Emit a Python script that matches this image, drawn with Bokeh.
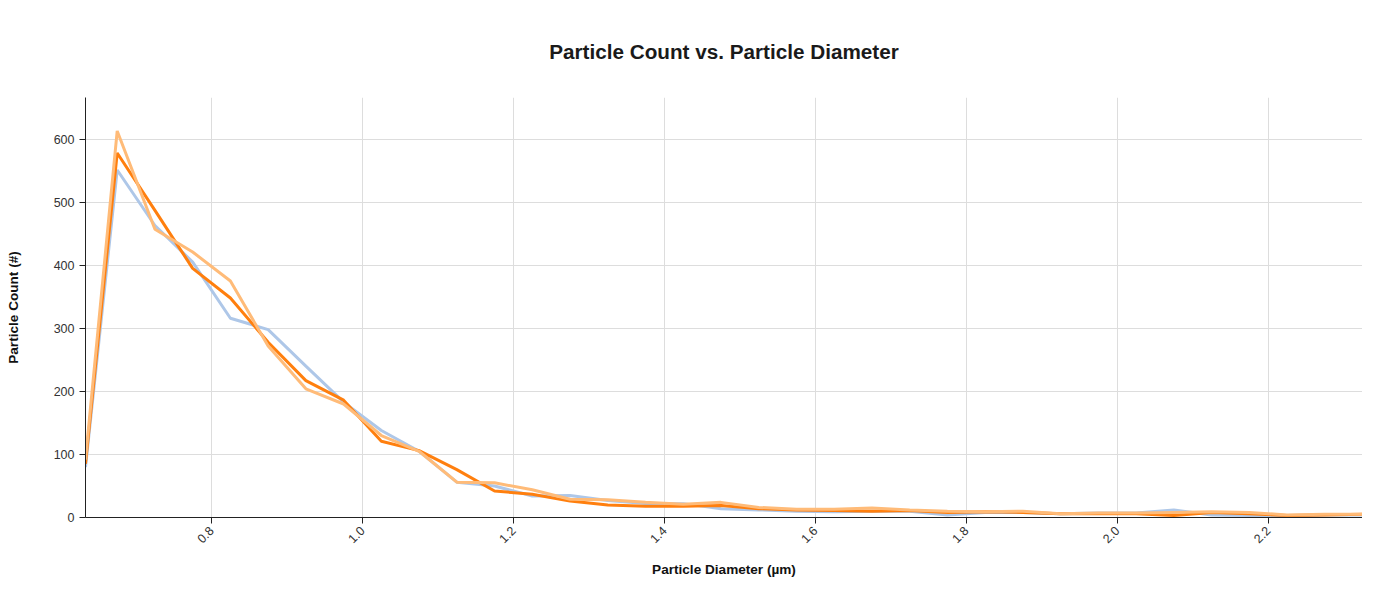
from bokeh.plotting import figure
from bokeh.models import Range1d, FixedTicker, PrintfTickFormatter
from bokeh.embed import file_html
from bokeh.resources import INLINE
import math

diameter = [0.633, 0.675, 0.725, 0.775, 0.825, 0.875, 0.925, 0.975, 1.025, 1.075,
            1.125, 1.175, 1.225, 1.275, 1.325, 1.375, 1.425, 1.475, 1.525, 1.575,
            1.625, 1.675, 1.725, 1.775, 1.825, 1.875, 1.925, 1.975, 2.025, 2.075,
            2.125, 2.175, 2.225, 2.275, 2.325]

series_a = [80, 551, 463, 405, 316, 298, 240, 183, 138, 105,
            56, 50, 34, 35, 27, 22, 22, 14, 12, 10,
            9, 10, 10, 4, 8, 8, 6, 7, 7, 12,
            4, 3, 3, 4, 4]
series_b = [85, 578, 487, 395, 348, 278, 217, 186, 121, 106,
            76, 42, 37, 26, 20, 18, 18, 19, 14, 12,
            11, 10, 11, 8, 9, 8, 6, 6, 6, 3,
            8, 6, 3, 4, 5]
series_c = [92, 613, 457, 421, 375, 272, 204, 180, 130, 105,
            56, 55, 44, 29, 28, 24, 21, 24, 16, 13,
            13, 15, 12, 10, 9, 10, 6, 7, 7, 8,
            9, 8, 4, 5, 5]

x_ticks = [0.8, 1.0, 1.2, 1.4, 1.6, 1.8, 2.0, 2.2]
y_ticks = [0, 100, 200, 300, 400, 500, 600]

FONT = "Liberation Sans"

p = figure(width=1362, height=580, output_backend="svg", toolbar_location=None,
           x_range=Range1d(0.633, 2.325), y_range=Range1d(0, 666),
           title="Particle Count vs. Particle Diameter",
           min_border_left=85, min_border_right=0, min_border_top=97, min_border_bottom=60)

p.title.align = "center"
p.title.text_font = FONT
p.title.text_font_size = "20.7px"
p.title.text_font_style = "bold"
p.title.text_color = "#1a1a1a"
p.title.standoff = 70

p.outline_line_color = None
p.background_fill_color = "white"
p.border_fill_color = "white"

for ax in (p.xaxis[0], p.yaxis[0]):
    ax.axis_line_color = "#222222"
    ax.major_tick_line_color = "#222222"
    ax.major_tick_out = 6
    ax.major_tick_in = 0
    ax.minor_tick_line_color = None
    ax.major_label_text_font = FONT
    ax.major_label_text_font_size = "12.5px"
    ax.major_label_text_color = "#333333"
    ax.axis_label_text_font = FONT
    ax.axis_label_text_font_size = "13.6px"
    ax.axis_label_text_font_style = "bold"
    ax.axis_label_text_color = "#111111"

p.xaxis.ticker = FixedTicker(ticks=x_ticks)
p.xaxis.formatter = PrintfTickFormatter(format="%.1f")
p.xaxis.major_label_orientation = math.pi / 4
p.xaxis.axis_label = "Particle Diameter (µm)"
p.xaxis.axis_label_standoff = 12

p.yaxis.ticker = FixedTicker(ticks=y_ticks)
p.yaxis.axis_label = "Particle Count (#)"
p.yaxis.axis_label_standoff = 30

p.xgrid.grid_line_color = "#dddddd"
p.ygrid.grid_line_color = "#dddddd"

p.line(diameter, series_a, line_color="#aec7e8", line_width=3)
p.line(diameter, series_b, line_color="#ff7f0e", line_width=3)
p.line(diameter, series_c, line_color="#ffbb78", line_width=3)

open("out.html", "w").write(file_html(p, INLINE))
